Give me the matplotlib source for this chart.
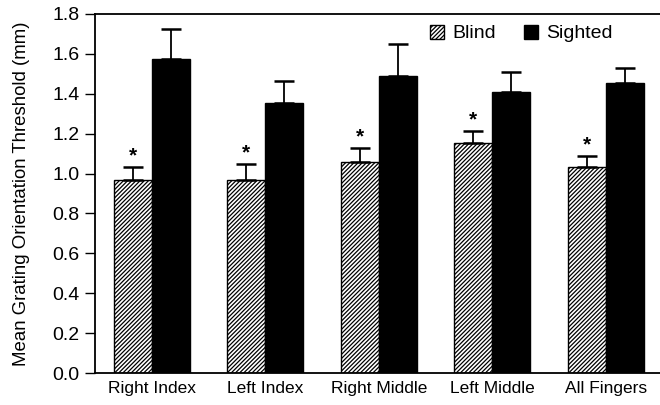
import matplotlib
matplotlib.use("Agg")
import matplotlib.pyplot as plt
import numpy as np
from matplotlib.patches import Patch

plt.rcParams['font.family'] = ['Liberation Sans', 'DejaVu Sans']
plt.rcParams['hatch.linewidth'] = 0.9

categories = ["Right Index", "Left Index", "Right Middle", "Left Middle", "All Fingers"]
blind = [0.97, 0.97, 1.06, 1.155, 1.035]
blind_err = [0.062, 0.08, 0.067, 0.06, 0.054]
sighted = [1.575, 1.352, 1.49, 1.408, 1.456]
sighted_err = [0.15, 0.11, 0.16, 0.10, 0.075]
yticks = [0.0, 0.2, 0.4, 0.6, 0.8, 1.0, 1.2, 1.4, 1.6, 1.8]

fig = plt.figure(figsize=(6.6, 4.05), dpi=100)
ax = fig.add_axes([95/660, 32/405, 1 - 95/660, (373-14)/405])

x = np.arange(len(categories))
w = 0.335
ax.bar(x - w/2, blind, w, color='white', edgecolor='black', hatch='////////', linewidth=1.0, zorder=2)
ax.bar(x + w/2, sighted, w, color='black', edgecolor='black', linewidth=1.0, zorder=2)
ax.errorbar(x - w/2, blind, yerr=[np.zeros(len(blind)), blind_err], fmt='none',
            ecolor='black', elinewidth=1.3, capsize=7, capthick=1.8, zorder=3)
ax.errorbar(x + w/2, sighted, yerr=[np.zeros(len(sighted)), sighted_err], fmt='none',
            ecolor='black', elinewidth=1.3, capsize=7, capthick=1.8, zorder=3)

for xi, b, e in zip(x - w/2, blind, blind_err):
    ax.annotate('*', (xi, b + e), xytext=(0, 1), textcoords='offset points',
                ha='center', va='bottom', fontsize=15, fontweight='bold')

ax.set_xlim(-0.503, 4.48)
ax.set_ylim(0, 1.8)
ax.set_yticks(yticks)
ax.set_yticklabels([f"{t:.1f}" for t in yticks], fontsize=14)
ax.set_xticks(x)
ax.set_xticklabels(categories, fontsize=12.5)
ax.tick_params(axis='x', length=0, pad=6)
ax.tick_params(axis='y', direction='out', length=7, width=1, pad=4)
ax.spines['right'].set_visible(False)
for s in ['left', 'top', 'bottom']:
    ax.spines[s].set_linewidth(1.3)

ax.set_ylabel("Mean Grating Orientation Threshold (mm)", fontsize=13.4, labelpad=16)

handles = [Patch(facecolor='white', edgecolor='black', hatch='////////', label='Blind'),
           Patch(facecolor='black', edgecolor='black', label='Sighted')]
ax.legend(handles=handles, loc='upper right', bbox_to_anchor=(0.917, 0.97), ncol=2, frameon=False,
          fontsize=14, handlelength=0.72, handleheight=0.72, handletextpad=0.46, columnspacing=1.4,
          borderaxespad=0, borderpad=0)

fig.savefig("out.png", dpi=100)
